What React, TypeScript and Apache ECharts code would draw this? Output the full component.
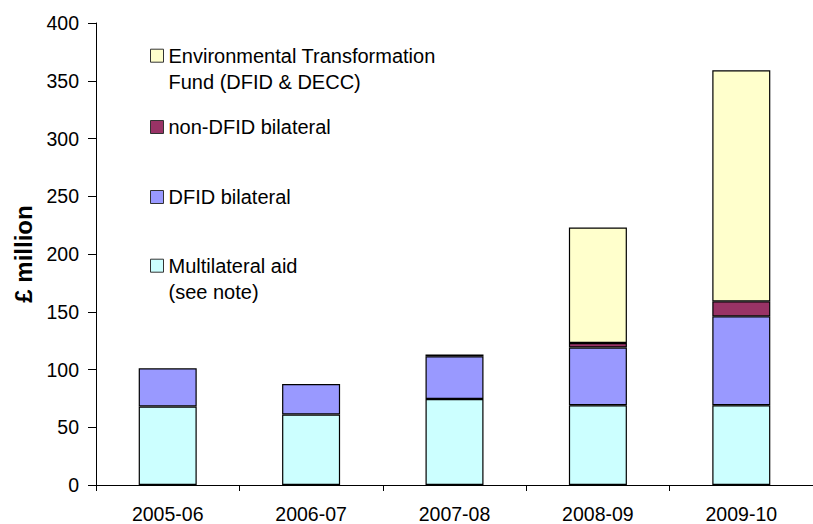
import React, { useEffect, useRef } from "react";
import * as echarts from "echarts";

const categories = ["2005-06", "2006-07", "2007-08", "2008-09", "2009-10"];
const multilateral = [68, 61, 74.5, 69, 69];
const dfidBilateral = [33, 26.5, 37, 50, 77];
const nonDfidBilateral = [null, null, 1.5, 4, 13];
const etf = [null, null, null, 100, 200];
const yTicks = { min: 0, max: 400, interval: 50 };

const names = {
  multi: "Multilateral aid\n(see note)",
  dfid: "DFID bilateral",
  non: "non-DFID bilateral",
  etf: "Environmental Transformation\nFund (DFID & DECC)",
};

const FONT = "Liberation Sans, Arial, sans-serif";

export default function App() {
  const ref = useRef<HTMLDivElement>(null);
  useEffect(() => {
    if (!ref.current) return;
    document.body.style.margin = "0";
    const chart = echarts.init(ref.current, null, { renderer: "svg" });
    const legendBase = {
      orient: "vertical",
      left: 150,
      padding: 0,
      icon: "rect",
      itemWidth: 13,
      itemHeight: 13,
      itemStyle: { borderColor: "#333", borderWidth: 1 },
      selectedMode: false,
      textStyle: { fontFamily: FONT, fontSize: 20, color: "#000", lineHeight: 26 },
    };
    const bar = (name: string, data: any[], color: string) => ({
      name,
      type: "bar",
      stack: "total",
      barWidth: 58,
      data,
      itemStyle: { color, borderColor: "#000", borderWidth: 1.2 },
    });
    const twoLine = (n: string) => " \n" + n;
    chart.setOption({
      animation: false,
      backgroundColor: "#fff",
      textStyle: { fontFamily: FONT },
      grid: { left: 96, top: 23, bottom: 39, right: -10, containLabel: false },
      legend: [
        { ...legendBase, top: 16.7, data: [names.etf], formatter: twoLine },
        { ...legendBase, top: 114, data: [names.non] },
        { ...legendBase, top: 184, data: [names.dfid] },
        { ...legendBase, top: 226.7, data: [names.multi], formatter: twoLine },
      ],
      xAxis: {
        type: "category",
        data: categories,
        axisLine: { lineStyle: { color: "#000", width: 1 } },
        axisTick: { show: true, length: 6, lineStyle: { color: "#000" } },
        axisLabel: { fontFamily: FONT, fontSize: 19.5, color: "#000", margin: 19 },
        splitLine: { show: false },
      },
      yAxis: {
        type: "value",
        min: yTicks.min,
        max: yTicks.max,
        interval: yTicks.interval,
        name: "£ million",
        nameLocation: "middle",
        nameGap: 60,
        nameTextStyle: { fontFamily: FONT, fontSize: 24, fontWeight: "bold", color: "#000" },
        axisLine: { show: true, lineStyle: { color: "#000", width: 1 } },
        axisTick: { show: true, length: 8, lineStyle: { color: "#000" } },
        axisLabel: { fontFamily: FONT, fontSize: 19.5, color: "#000", margin: 17 },
        splitLine: { show: false },
      },
      series: [
        bar(names.multi, multilateral, "#CCFFFF"),
        bar(names.dfid, dfidBilateral, "#9999FF"),
        bar(names.non, nonDfidBilateral, "#993366"),
        bar(names.etf, etf, "#FFFFCC"),
      ],
    });
    return () => chart.dispose();
  }, []);
  return (
    <div
      ref={ref}
      style={{ position: "absolute", left: 0, top: 0, width: 813, height: 524 }}
    />
  );
}
